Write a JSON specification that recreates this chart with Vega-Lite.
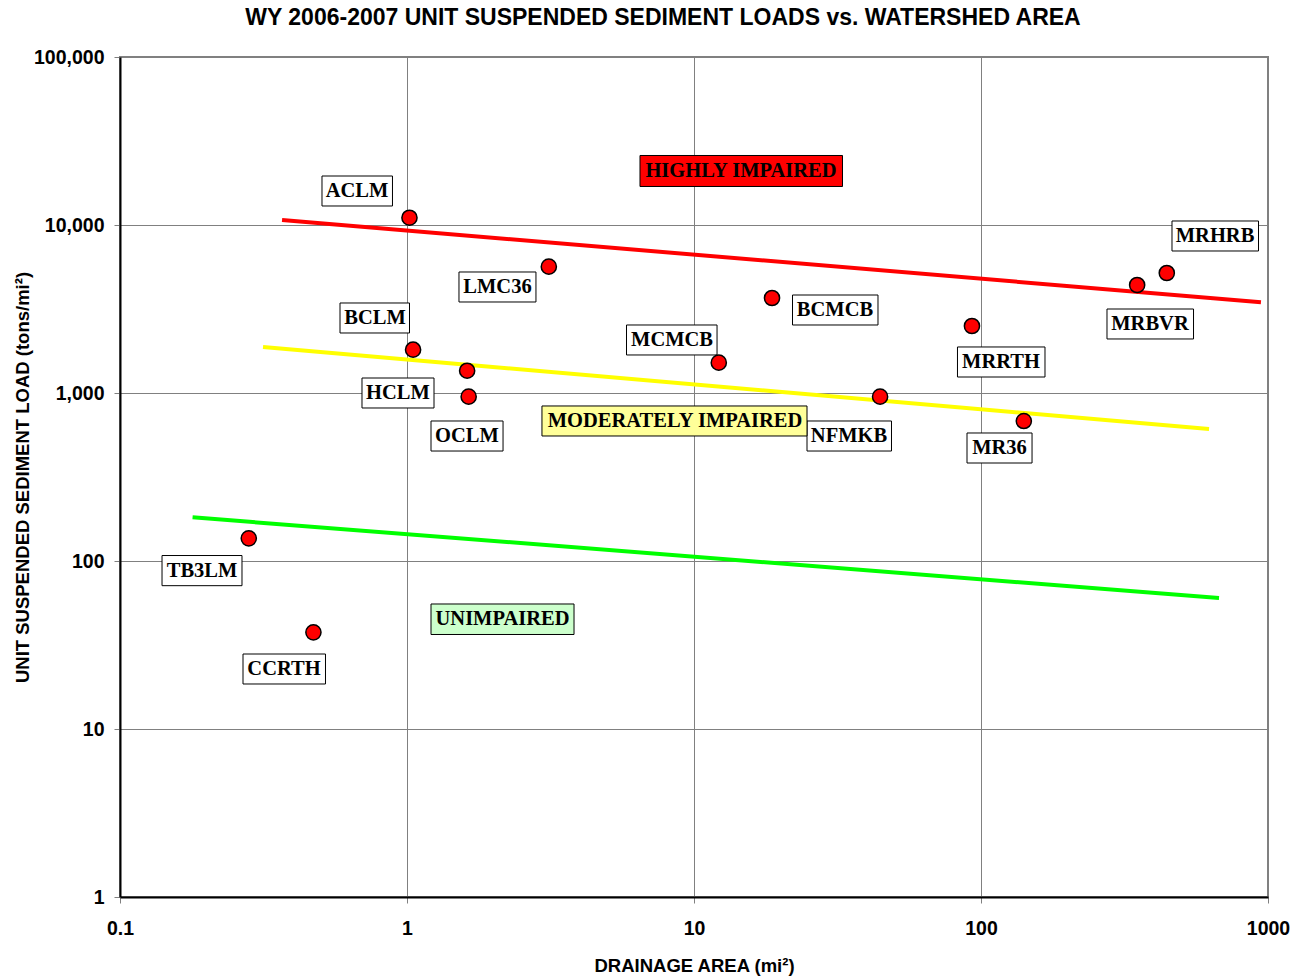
{
  "$schema": "https://vega.github.io/schema/vega-lite/v6.json",
  "width": 1148,
  "height": 840,
  "autosize": {"type": "none"},
  "padding": {"left": 120, "top": 57, "right": 27, "bottom": 83},
  "background": "white",
  "title": {
    "text": "WY 2006-2007 UNIT SUSPENDED SEDIMENT LOADS vs. WATERSHED AREA",
    "font": "Liberation Sans",
    "fontSize": 23,
    "fontWeight": "bold",
    "color": "black",
    "anchor": "middle",
    "frame": "group",
    "dx": -31,
    "offset": 17
  },
  "config": {
    "view": {"stroke": "#808080", "strokeWidth": 2},
    "axis": {
      "grid": true,
      "gridColor": "#808080",
      "gridWidth": 1,
      "gridOpacity": 1,
      "tickColor": "#808080",
      "tickSize": 6,
      "tickWidth": 1,
      "domainColor": "black",
      "domainWidth": 2,
      "labelFont": "Liberation Sans",
      "labelFontSize": 19.5,
      "labelFontWeight": "bold",
      "labelColor": "black",
      "labelFlush": false,
      "labelOverlap": false,
      "labelBound": false,
      "titleFont": "Liberation Sans",
      "titleFontSize": 18.5,
      "titleFontWeight": "bold",
      "titleColor": "black"
    }
  },
  "datasets": {
    "sites": [
      {"site": "ACLM", "area": 1.02, "load": 11050},
      {"site": "LMC36", "area": 3.12, "load": 5650},
      {"site": "BCLM", "area": 1.05, "load": 1810},
      {"site": "HCLM", "area": 1.62, "load": 1357},
      {"site": "OCLM", "area": 1.64, "load": 951},
      {"site": "MCMCB", "area": 12.2, "load": 1515},
      {"site": "BCMCB", "area": 18.7, "load": 3677},
      {"site": "NFMKB", "area": 44.5, "load": 951},
      {"site": "MRRTH", "area": 93.0, "load": 2505},
      {"site": "MR36", "area": 141, "load": 681},
      {"site": "MRBVR", "area": 350, "load": 4394},
      {"site": "MRHRB", "area": 444, "load": 5179},
      {"site": "TB3LM", "area": 0.281, "load": 136.5},
      {"site": "CCRTH", "area": 0.472, "load": 37.6}
    ],
    "lines": [
      {"zone": "HIGHLY IMPAIRED", "area": 0.367, "load": 10709},
      {"zone": "HIGHLY IMPAIRED", "area": 945, "load": 3467},
      {"zone": "MODERATELY IMPAIRED", "area": 0.315, "load": 1879},
      {"zone": "MODERATELY IMPAIRED", "area": 623, "load": 610.6},
      {"zone": "UNIMPAIRED", "area": 0.179, "load": 182},
      {"zone": "UNIMPAIRED", "area": 675, "load": 60.2}
    ],
    "labels": [
      {"label": "ACLM", "kind": "site", "cx": 0.6696, "cy": 15936, "x1": 0.5056, "x2": 0.89, "y1": 12977, "y2": 19570},
      {"label": "LMC36", "kind": "site", "cx": 2.067, "cy": 4275, "x1": 1.5175, "x2": 2.814, "y1": 3481, "y2": 5251},
      {"label": "BCLM", "kind": "site", "cx": 0.7735, "cy": 2795, "x1": 0.5842, "x2": 1.0203, "y1": 2276, "y2": 3434},
      {"label": "HCLM", "kind": "site", "cx": 0.9304, "cy": 1000, "x1": 0.6969, "x2": 1.242, "y1": 814.3, "y2": 1228},
      {"label": "OCLM", "kind": "site", "cx": 1.618, "cy": 554.7, "x1": 1.2124, "x2": 2.161, "y1": 451.5, "y2": 681.3},
      {"label": "MCMCB", "kind": "site", "cx": 8.383, "cy": 2068, "x1": 5.819, "x2": 12.03, "y1": 1684, "y2": 2540},
      {"label": "BCMCB", "kind": "site", "cx": 30.99, "cy": 3119, "x1": 22.04, "x2": 43.76, "y1": 2540, "y2": 3831},
      {"label": "NFMKB", "kind": "site", "cx": 34.68, "cy": 554.7, "x1": 24.76, "x2": 48.77, "y1": 451.5, "y2": 681.3},
      {"label": "MRRTH", "kind": "site", "cx": 117.4, "cy": 1530, "x1": 82.8, "x2": 167.1, "y1": 1245, "y2": 1879},
      {"label": "MR36", "kind": "site", "cx": 116.0, "cy": 470.8, "x1": 89.38, "x2": 150.6, "y1": 383.1, "y2": 578.0},
      {"label": "MRBVR", "kind": "site", "cx": 388.0, "cy": 2575, "x1": 274.8, "x2": 550.2, "y1": 2097, "y2": 3162},
      {"label": "MRHRB", "kind": "site", "cx": 653.7, "cy": 8601, "x1": 462.9, "x2": 926.7, "y1": 7003, "y2": 10564},
      {"label": "TB3LM", "kind": "site", "cx": 0.1931, "cy": 87.2, "x1": 0.1401, "x2": 0.2661, "y1": 71.3, "y2": 107.8},
      {"label": "CCRTH", "kind": "site", "cx": 0.3728, "cy": 22.76, "x1": 0.2683, "x2": 0.52, "y1": 18.53, "y2": 27.95},
      {"label": "HIGHLY IMPAIRED", "kind": "high", "cx": 14.58, "cy": 20963, "x1": 6.484, "x2": 32.92, "y1": 16950, "y2": 25925},
      {"label": "MODERATELY IMPAIRED", "kind": "moderate", "cx": 8.587, "cy": 681.3, "x1": 2.953, "x2": 24.76, "y1": 554.7, "y2": 837},
      {"label": "UNIMPAIRED", "kind": "unimpaired", "cx": 2.152, "cy": 45.16, "x1": 1.2124, "x2": 3.819, "y1": 36.52, "y2": 55.47}
    ]
  },
  "layer": [
    {
      "data": {"name": "lines"},
      "mark": {"type": "line", "strokeWidth": 4},
      "encoding": {
        "x": {
          "field": "area",
          "type": "quantitative",
          "title": "DRAINAGE AREA (mi²)",
          "scale": {"type": "log", "domain": [0.1, 1000], "nice": false, "zero": false},
          "axis": {
            "values": [0.1, 1, 10, 100, 1000],
            "format": "~g",
            "labelPadding": 16,
            "titleY": 68,
            "titleBaseline": "middle"
          }
        },
        "y": {
          "field": "load",
          "type": "quantitative",
          "title": "UNIT SUSPENDED SEDIMENT LOAD (tons/mi²)",
          "scale": {"type": "log", "domain": [1, 100000], "nice": false, "zero": false},
          "axis": {
            "values": [1, 10, 100, 1000, 10000, 100000],
            "format": ",",
            "labelPadding": 10,
            "titleX": -98,
            "titleY": 420,
            "titleAngle": -90,
            "titleAlign": "center",
            "titleBaseline": "middle"
          }
        },
        "stroke": {
          "field": "zone",
          "type": "nominal",
          "scale": {"domain": ["HIGHLY IMPAIRED", "MODERATELY IMPAIRED", "UNIMPAIRED"], "range": ["#ff0000", "#ffff00", "#00ff00"]},
          "legend": null
        }
      }
    },
    {
      "data": {"name": "labels"},
      "mark": {"type": "rect", "stroke": "black", "strokeWidth": 1},
      "encoding": {
        "x": {"field": "x1", "type": "quantitative", "title": "DRAINAGE AREA (mi²)", "scale": {"type": "log", "domain": [0.1, 1000], "nice": false, "zero": false}},
        "x2": {"field": "x2"},
        "y": {"field": "y1", "type": "quantitative", "title": "UNIT SUSPENDED SEDIMENT LOAD (tons/mi²)", "scale": {"type": "log", "domain": [1, 100000], "nice": false, "zero": false}},
        "y2": {"field": "y2"},
        "fill": {
          "field": "kind",
          "type": "nominal",
          "scale": {"domain": ["site", "high", "moderate", "unimpaired"], "range": ["#ffffff", "#ff0000", "#ffff99", "#ccffcc"]},
          "legend": null
        }
      }
    },
    {
      "data": {"name": "labels"},
      "mark": {"type": "text", "font": "Liberation Serif", "fontWeight": "bold", "fontSize": 20.5, "align": "center", "baseline": "middle", "color": "black"},
      "encoding": {
        "x": {"field": "cx", "type": "quantitative", "title": "DRAINAGE AREA (mi²)", "scale": {"type": "log", "domain": [0.1, 1000], "nice": false, "zero": false}},
        "y": {"field": "cy", "type": "quantitative", "title": "UNIT SUSPENDED SEDIMENT LOAD (tons/mi²)", "scale": {"type": "log", "domain": [1, 100000], "nice": false, "zero": false}},
        "text": {"field": "label"}
      }
    },
    {
      "data": {"name": "sites"},
      "mark": {"type": "point", "shape": "circle", "filled": true, "fill": "#ff0000", "stroke": "black", "strokeWidth": 1.5, "size": 230, "opacity": 1},
      "encoding": {
        "x": {"field": "area", "type": "quantitative", "title": "DRAINAGE AREA (mi²)", "scale": {"type": "log", "domain": [0.1, 1000], "nice": false, "zero": false}},
        "y": {"field": "load", "type": "quantitative", "title": "UNIT SUSPENDED SEDIMENT LOAD (tons/mi²)", "scale": {"type": "log", "domain": [1, 100000], "nice": false, "zero": false}},
        "tooltip": {"field": "site"}
      }
    }
  ]
}
